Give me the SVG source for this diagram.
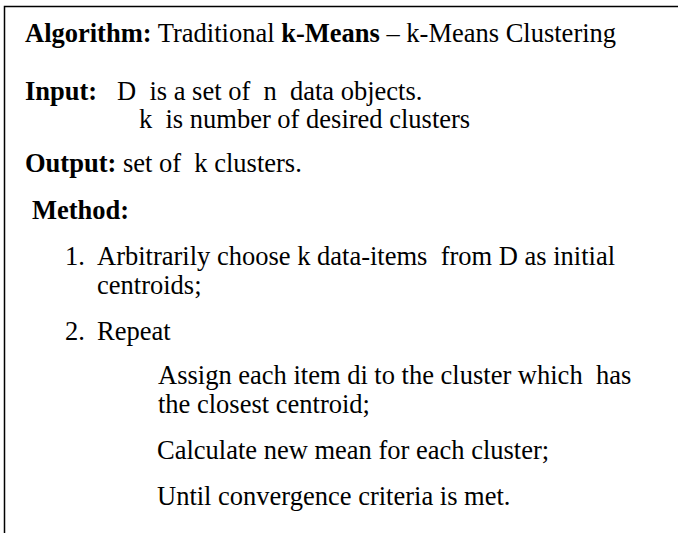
<svg xmlns="http://www.w3.org/2000/svg" width="678" height="533" viewBox="0 0 678 533">
<style>
text{font-family:"Liberation Serif","Times New Roman",serif;font-size:26.5px;fill:#000}
.b{font-weight:bold}
</style>
<rect x="0" y="0" width="678" height="533" fill="#fff"/>
<g id="frame" fill="none" stroke="#000" stroke-width="1.5">
<path d="M4.5,533 V6.5 H678"/>
</g>
<g id="header">
<text x="25" y="42"><tspan class="b">Algorithm:</tspan> Traditional <tspan class="b">k-Means</tspan> – k-Means Clustering</text>
</g>
<g id="input">
<text x="25" y="100" class="b">Input:</text>
<text x="117" y="100" xml:space="preserve">D  is a set of  n  data objects.</text>
<text x="139" y="128" xml:space="preserve">k  is number of desired clusters</text>
</g>
<g id="output">
<text x="25" y="172" xml:space="preserve"><tspan class="b">Output:</tspan> set of  k clusters.</text>
</g>
<g id="method">
<text x="32" y="219" class="b">Method:</text>
<text x="65" y="265">1.</text>
<text x="97" y="265" xml:space="preserve">Arbitrarily choose k data-items  from D as initial</text>
<text x="97" y="294">centroids;</text>
<text x="65" y="340">2.</text>
<text x="97" y="340">Repeat</text>
<text x="158" y="384" xml:space="preserve">Assign each item di to the cluster which  has</text>
<text x="158" y="413">the closest centroid;</text>
<text x="157" y="459">Calculate new mean for each cluster;</text>
<text x="157" y="505">Until convergence criteria is met.</text>
</g>
</svg>
